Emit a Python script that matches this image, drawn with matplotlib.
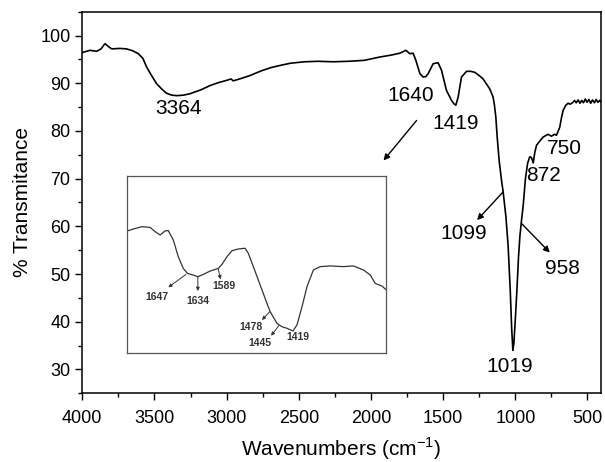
import matplotlib
matplotlib.use("Agg")
import matplotlib.pyplot as plt
from matplotlib.ticker import MultipleLocator

plt.rcParams['font.family'] = ['Liberation Sans', 'DejaVu Sans']

# main FTIR spectrum (wavenumber, % transmittance)
wn = [4000, 3993, 3947, 3900, 3870, 3843, 3815, 3796, 3740, 3693, 3650, 3612,
      3580, 3554, 3520, 3485, 3450, 3416, 3380, 3346, 3300, 3254, 3180, 3116,
      3060, 3000, 2970, 2954, 2900, 2839, 2760, 2691, 2620, 2557, 2460, 2367,
      2260, 2155, 2047, 1938, 1860, 1800, 1758, 1731, 1708, 1689, 1661, 1639,
      1620, 1604, 1569, 1535, 1511, 1477, 1442, 1425, 1412, 1396, 1373, 1338,
      1310, 1281, 1250, 1223, 1177, 1154, 1145, 1135, 1125, 1112, 1095, 1085,
      1065, 1050, 1035, 1025, 1017, 1010, 1000, 990, 978, 968, 958, 945,
      930, 915, 900, 888, 876, 865, 853, 830, 808, 773, 750, 727, 715,
      700, 692, 680, 669, 650, 634, 620, 600, 590, 578, 565, 552, 540,
      528, 515, 503, 490, 478, 465, 452, 440, 428, 415, 408]
trans = [96.4, 96.5, 96.9, 96.7, 97.2, 98.3, 97.6, 97.2, 97.3, 97.2, 96.8, 96.2,
         95.2, 93.4, 91.6, 89.9, 88.8, 87.9, 87.5, 87.4, 87.5, 87.8, 88.6, 89.5,
         90.1, 90.6, 90.9, 90.5, 91.0, 91.6, 92.6, 93.3, 93.8, 94.2, 94.5, 94.6,
         94.5, 94.6, 94.8, 95.5, 95.9, 96.3, 96.9, 96.2, 96.3, 94.8, 92.0, 91.3,
         91.4, 92.0, 94.1, 94.3, 92.7, 88.5, 86.4, 85.7, 85.4, 87.1, 91.3, 92.5,
         92.5, 92.3, 91.6, 90.9, 88.8, 87.1, 85.5, 82.9, 78.5, 73.8, 69.5, 67.4,
         62.0, 56.0, 46.5, 38.5, 34.0, 35.5, 40.5, 46.0, 53.5, 58.0, 61.0, 64.5,
         70.0, 73.2, 74.6, 74.4, 73.3, 75.5, 77.0, 77.9, 78.7, 79.3, 78.9, 79.3, 79.1,
         80.2, 80.8, 82.8, 84.3, 85.4, 85.8, 85.6, 86.0, 86.4, 85.9, 86.5, 85.8, 86.4,
         85.9, 86.7, 86.0, 86.6, 85.8, 86.5, 85.9, 86.6, 86.0, 86.4, 86.1]

# inset: expanded 1785-1217 cm-1 region (y in relative units of the box)
inset_wn = [1785, 1772, 1753, 1735, 1724, 1713, 1702, 1695, 1684, 1673, 1662,
            1653, 1641, 1630, 1618, 1603, 1585, 1577, 1566, 1555, 1541, 1526,
            1519, 1508, 1493, 1478, 1471, 1456, 1445, 1434, 1421, 1412, 1401,
            1390, 1376, 1361, 1339, 1310, 1288, 1266, 1251, 1240, 1225, 1217]
inset_y = [0.689, 0.700, 0.713, 0.709, 0.685, 0.666, 0.689, 0.691, 0.638, 0.543,
           0.477, 0.449, 0.440, 0.430, 0.443, 0.462, 0.477, 0.500, 0.543, 0.577,
           0.587, 0.591, 0.562, 0.487, 0.383, 0.279, 0.232, 0.166, 0.147, 0.138,
           0.123, 0.157, 0.260, 0.374, 0.468, 0.487, 0.491, 0.487, 0.491, 0.468,
           0.440, 0.392, 0.377, 0.358]

# peak labels on the main curve: (text, x, y)
main_labels = [("3364", 3330, 84.6), ("1640", 1724, 87.4), ("1419", 1411, 81.6),
               ("750", 657, 76.3), ("872", 808, 70.7), ("1099", 1357, 58.5),
               ("958", 673, 51.2), ("1019", 1038, 30.6)]
# arrows on the main curve: (tail, head)
main_arrows = [((1684, 82.2), (1913, 73.8)),
               ((1085, 67.2), (1265, 61.3)),
               ((957, 60.6), (761, 54.5))]

inset_labels = [("1647", 1719, 0.317), ("1634", 1629, 0.292), ("1589", 1572, 0.377),
                ("1478", 1513, 0.147), ("1445", 1493, 0.053), ("1419", 1410, 0.087)]
inset_arrows = [((1656, 0.443), (1695, 0.370)),
                ((1630, 0.426), (1630, 0.349)),
                ((1585, 0.472), (1580, 0.415)),
                ((1472, 0.232), (1489, 0.185)),
                ((1452, 0.153), (1469, 0.096))]

fig = plt.figure(figsize=(6.05, 4.62), dpi=100)
ax = fig.add_axes([0.136, 0.1487, 0.857, 0.826])

ax.plot(wn, trans, color='black', lw=1.2)
ax.set_xlim(4000, 408)
ax.set_ylim(25, 105)
ax.xaxis.set_major_locator(MultipleLocator(500))
ax.xaxis.set_minor_locator(MultipleLocator(250))
ax.yaxis.set_major_locator(MultipleLocator(10))
ax.yaxis.set_minor_locator(MultipleLocator(5))
ax.set_yticks(range(30, 101, 10))
ax.tick_params(which='both', direction='out', top=False, right=False, labelsize=13)
ax.tick_params(which='major', length=5, width=1)
ax.tick_params(axis='x', which='major', pad=7)
ax.tick_params(which='minor', length=3, width=1)
for s in ax.spines.values():
    s.set_linewidth(1.1)

ax.set_xlabel("Wavenumbers (cm$^{\\mathregular{-1}}$)", fontsize=15, labelpad=6)
ax.set_ylabel("% Transmitance", fontsize=15, labelpad=6)

for txt, x, y in main_labels:
    ax.text(x, y, txt, fontsize=15, ha='center', va='center')
for tail, head in main_arrows:
    ax.annotate("", xy=head, xytext=tail,
                arrowprops=dict(arrowstyle='-|>', color='black', lw=1.0,
                                mutation_scale=9, shrinkA=0, shrinkB=0))

# inset
ins = fig.add_axes([0.2105, 0.2366, 0.427, 0.3825])
ins.plot(inset_wn, inset_y, color='#333333', lw=0.9)
ins.set_xlim(1785, 1217)
ins.set_ylim(0, 1)
ins.set_xticks([])
ins.set_yticks([])
for s in ins.spines.values():
    s.set_linewidth(0.9)
    s.set_color('#555555')
for txt, x, y in inset_labels:
    ins.text(x, y, txt, fontsize=7.5, fontweight='bold', color='#333333',
             ha='center', va='center')
for tail, head in inset_arrows:
    ins.annotate("", xy=head, xytext=tail,
                 arrowprops=dict(arrowstyle='-|>', color='#333333', lw=0.7,
                                 mutation_scale=5, shrinkA=0, shrinkB=0))

fig.savefig("out.png", dpi=100)
